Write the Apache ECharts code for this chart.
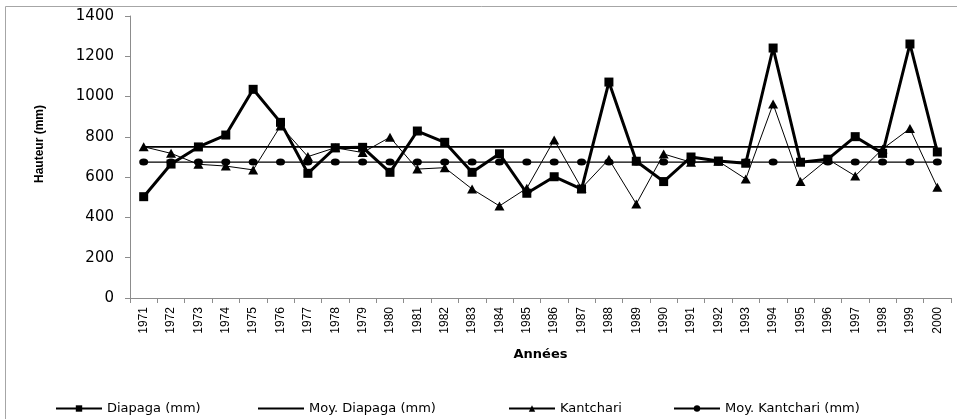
<!DOCTYPE html>
<html>
<head>
<meta charset="utf-8">
<script src="https://cdn.jsdelivr.net/npm/echarts@6/dist/echarts.min.js"></script>
<style>
  html, body { margin: 0; padding: 0; background: #fff; }
  #main { width: 957px; height: 419px; }
</style>
</head>
<body>
<div id="main"></div>
<script>
const years = ['1971', '1972', '1973', '1974', '1975', '1976', '1977', '1978', '1979', '1980',
  '1981', '1982', '1983', '1984', '1985', '1986', '1987', '1988', '1989', '1990',
  '1991', '1992', '1993', '1994', '1995', '1996', '1997', '1998', '1999', '2000']

const diapaga = [503, 665, 750, 809, 1036, 872, 619, 746, 748, 624,
  829, 773, 624, 716, 520, 602, 541, 1072, 679, 578,
  700, 680, 669, 1241, 674, 689, 801, 718, 1261, 725]

const moyDiapaga = [750, 750, 750, 750, 750, 750, 750, 750, 750, 750,
  750, 750, 750, 750, 750, 750, 750, 750, 750, 750,
  750, 750, 750, 750, 750, 750, 750, 750, 750, 750]

const kantchari = [751, 718, 664, 655, 636, 854, 702, 746, 722, 798,
  640, 647, 541, 457, 545, 785, 545, 689, 467, 715,
  674, 679, 591, 963, 578, 689, 606, 740, 841, 550]

const moyKantchari = [675, 675, 675, 675, 675, 675, 675, 675, 675, 675,
  675, 675, 675, 675, 675, 675, 675, 675, 675, 675,
  675, 675, 675, 675, 675, 675, 675, 675, 675, 675]

const yTicks = [0, 200, 400, 600, 800, 1000, 1200, 1400]

const chart = echarts.init(document.getElementById('main'))

const legendText = {
  fontFamily: 'DejaVu Sans',
  fontSize: 13,
  color: '#000'
}

function oneLegend(item, left, h) {
  return {
    data: [item],
    left: left,
    top: 397,
    itemWidth: 46,
    itemHeight: h || 8,
    itemGap: 0,
    textStyle: legendText,
    selectedMode: false
  }
}

const option = {
  animation: false,
  color: ['#000', '#000', '#000', '#000'],
  graphic: [
    {
      type: 'rect',
      shape: { x: 5.5, y: 6.5, width: 1200, height: 800 },
      style: { fill: 'none', stroke: '#a6a6a6', lineWidth: 1 },
      silent: true
    },
    {
      type: 'text',
      x: 40,
      y: 144,
      rotation: Math.PI / 2,
      style: {
        text: 'Hauteur (mm)',
        fontFamily: 'Liberation Sans',
        fontWeight: 'bold',
        fontSize: 12,
        fill: '#000',
        align: 'center',
        verticalAlign: 'middle'
      },
      silent: true
    }
  ],
  legend: [
    oneLegend('Diapaga (mm)', 50),
    oneLegend({ name: 'Moy. Diapaga (mm)', icon: 'rect' }, 253, 2),
    oneLegend('Kantchari', 503),
    oneLegend('Moy. Kantchari (mm)', 668)
  ],
  grid: {
    left: 130,
    right: 6,
    top: 16,
    bottom: 121,
    containLabel: false
  },
  xAxis: {
    type: 'category',
    data: years,
    boundaryGap: true,
    name: 'Années',
    nameLocation: 'middle',
    nameGap: 50,
    nameTextStyle: {
      fontFamily: 'DejaVu Sans',
      fontWeight: 'bold',
      fontSize: 13,
      color: '#000'
    },
    axisLine: { lineStyle: { color: '#8c8c8c', width: 1 } },
    axisTick: { show: true, alignWithLabel: false, length: 5, lineStyle: { color: '#8c8c8c' } },
    axisLabel: {
      rotate: 90,
      interval: 0,
      margin: 9,
      fontFamily: 'Liberation Sans',
      fontSize: 12,
      color: '#000'
    },
    splitLine: { show: false }
  },
  yAxis: {
    type: 'value',
    min: yTicks[0],
    max: yTicks[yTicks.length - 1],
    interval: 200,
    axisLine: { show: true, lineStyle: { color: '#8c8c8c', width: 1 } },
    axisTick: { show: true, length: 5, lineStyle: { color: '#8c8c8c' } },
    axisLabel: {
      margin: 16,
      fontFamily: 'DejaVu Sans',
      fontSize: 15,
      color: '#000',
      formatter: v => String(v)
    },
    splitLine: { show: false }
  },
  series: [
    {
      name: 'Moy. Kantchari (mm)',
      type: 'line',
      data: moyKantchari,
      symbol: 'circle',
      symbolSize: [9, 7],
      lineStyle: { color: '#000', width: 1.2 },
      itemStyle: { color: '#000' },
      z: 2
    },
    {
      name: 'Moy. Diapaga (mm)',
      type: 'line',
      data: moyDiapaga,
      showSymbol: false,
      symbol: 'none',
      lineStyle: { color: '#000', width: 1.8 },
      z: 2
    },
    {
      name: 'Kantchari',
      type: 'line',
      data: kantchari,
      symbol: 'triangle',
      symbolSize: [10, 9],
      lineStyle: { color: '#000', width: 1 },
      itemStyle: { color: '#000' },
      z: 3
    },
    {
      name: 'Diapaga (mm)',
      type: 'line',
      data: diapaga,
      symbol: 'rect',
      symbolSize: 9,
      lineStyle: { color: '#000', width: 3 },
      itemStyle: { color: '#000' },
      z: 4
    }
  ]
}

chart.setOption(option)
</script>
</body>
</html>
